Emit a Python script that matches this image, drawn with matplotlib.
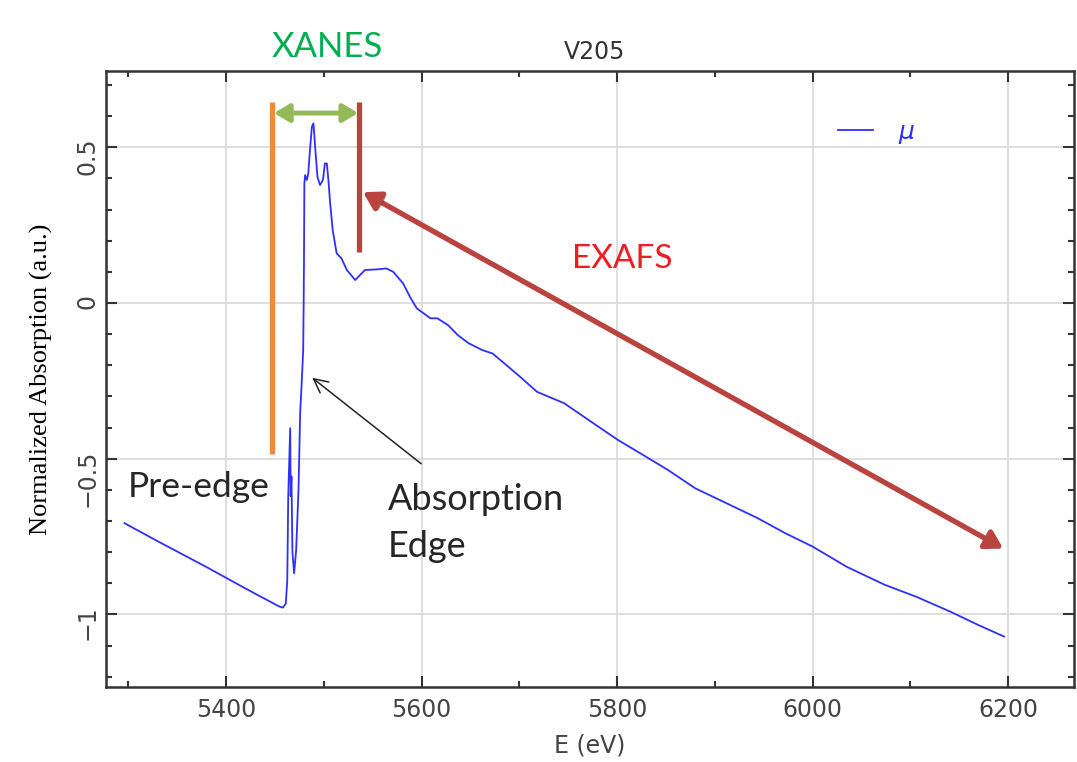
import matplotlib
matplotlib.use("Agg")
import matplotlib.pyplot as plt
import matplotlib.patheffects as pe
from matplotlib.ticker import MultipleLocator

# V2O5 absorption spectrum
energy = [5296, 5330, 5380, 5420, 5454, 5458, 5461, 5462.5, 5463.5, 5465.5,
          5466, 5466.8, 5467.8, 5469.5, 5471.6, 5474, 5475.7, 5477.4, 5478.8,
          5479.3, 5479.6, 5480, 5480.8, 5482.5, 5484, 5486, 5487.7, 5489.3,
          5491, 5493.4, 5496, 5499, 5501, 5503, 5504.6, 5506.4, 5509, 5513,
          5518, 5523.5, 5532, 5542, 5554, 5564, 5571, 5581, 5588, 5595, 5609,
          5616, 5627, 5637, 5648, 5662, 5672.5, 5686.6, 5700.8, 5718, 5746,
          5771, 5801, 5824, 5852, 5880, 5912, 5944, 5972, 6000, 6035, 6074,
          6106, 6141, 6169, 6196]
mu = [-0.707, -0.765, -0.848, -0.917, -0.974, -0.978, -0.965, -0.89, -0.62,
      -0.402, -0.62, -0.557, -0.80, -0.868, -0.793, -0.60, -0.353, -0.247,
      -0.151, 0.01, 0.133, 0.384, 0.411, 0.395, 0.416, 0.502, 0.566, 0.577,
      0.502, 0.405, 0.379, 0.395, 0.448, 0.448, 0.395, 0.320, 0.234, 0.160,
      0.143, 0.106, 0.074, 0.106, 0.108, 0.111, 0.100, 0.063, 0.020, -0.017,
      -0.049, -0.049, -0.071, -0.103, -0.129, -0.151, -0.162, -0.199, -0.237,
      -0.285, -0.322, -0.376, -0.440, -0.483, -0.536, -0.595, -0.643, -0.691,
      -0.739, -0.782, -0.847, -0.905, -0.943, -0.991, -1.033, -1.071]

x_ticks = [5400, 5600, 5800, 6000, 6200]
y_ticks = [-1, -0.5, 0, 0.5]
y_tick_labels = ["\u22121", "\u22120.5", "0", "0.5"]

# region markers (eV)
pre_edge_e = 5447
exafs_start_e = 5536

fig = plt.figure(figsize=(10.77, 7.62), dpi=100)
ax = fig.add_axes([0.0984, 0.0984, 0.8988, 0.8084])

ax.plot(energy, mu, color="#2f2fff", lw=1.3, label=r"$\mu$", zorder=3)

ax.set_xlim(5277, 6267.5)
ax.set_ylim(-1.233, 0.745)
ax.set_xticks(x_ticks)
ax.xaxis.set_minor_locator(MultipleLocator(100))
ax.set_yticks(y_ticks)
ax.set_yticklabels(y_tick_labels)
ax.yaxis.set_minor_locator(MultipleLocator(0.1))
ax.grid(True, which="major", color="#d8d8d8", lw=1.2)
ax.set_axisbelow(True)

ax.tick_params(which="both", direction="in", top=True, right=True,
               colors="#333333", labelcolor="#444444", labelsize=17)
ax.tick_params(which="major", length=8, width=1.5)
ax.tick_params(which="minor", length=4.5, width=1.5)
ax.tick_params(axis="y", labelrotation=90, pad=5)
ax.tick_params(axis="x", pad=8)
for s in ax.spines.values():
    s.set_color("#333333")
    s.set_linewidth(1.8)

ax.set_xlabel("E (eV)", fontsize=17, color="#444444", labelpad=8)
ax.set_ylabel("Normalized Absorption (a.u.)", fontsize=19,
              family="Liberation Serif", labelpad=16)
ax.text(5777, 0.806, "V205", fontsize=17, color="#333333",
        ha="center", va="center", clip_on=False)

# legend
ax.legend(loc="center left", bbox_to_anchor=(0.756, 0.899), frameon=False,
          borderpad=0, borderaxespad=0, handlelength=1.4, handletextpad=1.0,
          fontsize=18, labelcolor="#2f2fff")

# region markers
ax.vlines(pre_edge_e, -0.484, 0.644, color="#ef8a3c", lw=3.8, zorder=4)
ax.vlines(exafs_start_e, 0.163, 0.644, color="#b8433f", lw=3.8, zorder=4)

ax.annotate("", xy=(exafs_start_e - 1, 0.61), xytext=(pre_edge_e + 2, 0.61),
            arrowprops=dict(arrowstyle="<|-|>,head_length=0.45,head_width=0.27",
                            color="#94b957", lw=3.5, shrinkA=0, shrinkB=0,
                            mutation_scale=20), zorder=5)
ax.annotate("", xy=(6195, -0.788), xytext=(5540, 0.356),
            arrowprops=dict(arrowstyle="<|-|>,head_length=0.5,head_width=0.3",
                            color="#b8433f", lw=3.8, shrinkA=0, shrinkB=0,
                            mutation_scale=20,
                            path_effects=[pe.SimplePatchShadow(offset=(2, -2), alpha=0.25),
                                          pe.Normal()]), zorder=5)
ax.annotate("", xy=(5488, -0.24), xytext=(5599.5, -0.516),
            arrowprops=dict(arrowstyle="->,head_length=0.5,head_width=0.25",
                            color="#222222", lw=1.1, shrinkA=0, shrinkB=0,
                            mutation_scale=20), zorder=5)

label_font = "Lato"
ax.text(5504, 0.822, "XANES", fontsize=25, color="#00b050", family=label_font,
        ha="center", va="center", clip_on=False)
ax.text(5805, 0.140, "EXAFS", fontsize=24, color="#ee1c25", family=label_font,
        ha="center", va="center")
ax.text(5299, -0.623, "Pre-edge", fontsize=25.5, color="#262626",
        family=label_font, ha="left", va="baseline")
ax.text(5565, -0.665, "Absorption", fontsize=26, color="#262626",
        family=label_font, ha="left", va="baseline")
ax.text(5565, -0.815, "Edge", fontsize=26, color="#262626",
        family=label_font, ha="left", va="baseline")

fig.savefig("out.png", dpi=100)
